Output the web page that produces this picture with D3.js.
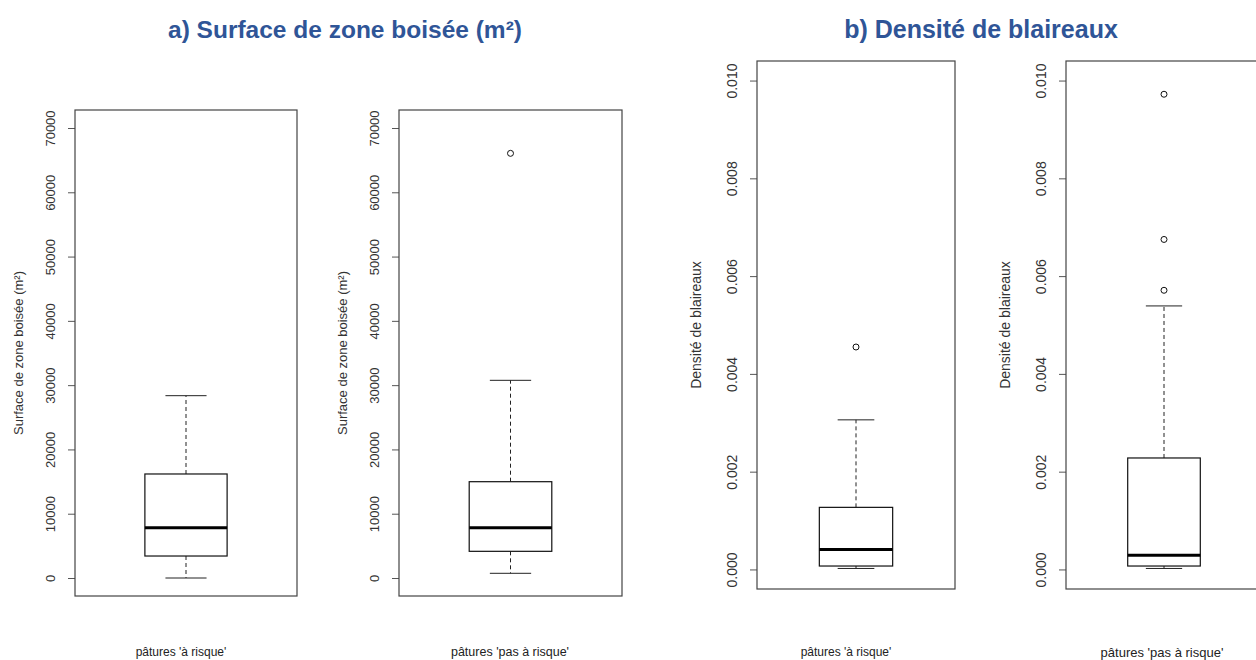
<!DOCTYPE html>
<html>
<head>
<meta charset="utf-8">
<script src="https://cdn.jsdelivr.net/npm/d3@7"></script>
<style>
  html, body { margin: 0; padding: 0; background: #fff; }
  svg { display: block; font-family: "Liberation Sans", Arial, sans-serif; }
</style>
</head>
<body>
<svg id="chart" width="1256" height="660"></svg>
<script>
// Groups of pastures
const categories = ["pâtures 'à risque'", "pâtures 'pas à risque'"];

// Box statistics: [lower whisker, Q1, median, Q3, upper whisker]
const surfaceStats = [
  [0, 3420, 7820, 16180, 28360],
  [730, 4150, 7820, 14980, 30750]
];
const surfaceOutliers = [
  [],
  [66060]
];
const densityStats = [
  [0.00002, 0.00007, 0.00041, 0.00127, 0.00306],
  [0.00002, 0.00007, 0.00029, 0.00228, 0.00539]
];
const densityOutliers = [
  [0.00455],
  [0.00571, 0.00675, 0.00972]
];

// Axis ticks and limits
const surfaceTicks = [0, 10000, 20000, 30000, 40000, 50000, 60000, 70000];
const densityTicks = [0, 0.002, 0.004, 0.006, 0.008, 0.010];
const surfaceLimits = [0, 70000];
const densityLimits = [0, 0.010];

const titles = ["a) Surface de zone boisée (m²)", "b) Densité de blaireaux"];
const yTitles = ["Surface de zone boisée (m²)", "Densité de blaireaux"];

const svg = d3.select("#chart");

function drawPanel(opt) {
  const { left, right, top, bottom, limits, ticks, fmt, stats, outliers,
          yTitle, yTitleX, category, tickFont, titleFont, catFont, catX } = opt;
  const pad = (limits[1] - limits[0]) * 0.04;
  const y = d3.scaleLinear().domain([limits[0] - pad, limits[1] + pad]).range([bottom, top]);
  const x = d3.scaleLinear().domain([0.46, 1.54]).range([left, right]);
  const g = svg.append("g");

  // y axis
  const axis = g.append("g")
    .attr("transform", `translate(${left},0)`)
    .call(d3.axisLeft(y).tickValues(ticks).tickSize(7).tickSizeOuter(0).tickFormat(fmt));
  axis.select(".domain").remove();
  axis.selectAll(".tick line").attr("stroke", "#555");
  axis.selectAll(".tick text")
    .attr("x", 0).attr("y", -25).attr("dy", null)
    .attr("transform", "rotate(-90)")
    .attr("text-anchor", "middle")
    .attr("dominant-baseline", "central")
    .attr("fill", "#333")
    .style("font-size", tickFont + "px")
    .style("font-family", "'Liberation Sans', Arial, sans-serif");

  // y title
  g.append("text")
    .attr("transform", `translate(${yTitleX},${(top + bottom) / 2}) rotate(-90)`)
    .attr("text-anchor", "middle")
    .attr("dominant-baseline", "central")
    .attr("fill", "#333")
    .style("font-size", titleFont + "px")
    .text(yTitle);

  // frame
  g.append("rect")
    .attr("x", left).attr("y", top)
    .attr("width", right - left).attr("height", bottom - top)
    .attr("fill", "none").attr("stroke", "#444").attr("stroke-width", 1.2);

  // box plot
  const [lo, q1, med, q3, hi] = stats;
  const cx = x(1), bw = x(1.2) - x(1), cw = x(1.1) - x(1);
  g.append("line").attr("x1", cx).attr("x2", cx).attr("y1", y(q3)).attr("y2", y(hi))
    .attr("stroke", "#222").attr("stroke-dasharray", "4,3");
  g.append("line").attr("x1", cx).attr("x2", cx).attr("y1", y(q1)).attr("y2", y(lo))
    .attr("stroke", "#222").attr("stroke-dasharray", "4,3");
  g.append("line").attr("x1", cx - cw).attr("x2", cx + cw).attr("y1", y(hi)).attr("y2", y(hi))
    .attr("stroke", "#222");
  g.append("line").attr("x1", cx - cw).attr("x2", cx + cw).attr("y1", y(lo)).attr("y2", y(lo))
    .attr("stroke", "#222");
  g.append("rect")
    .attr("x", cx - bw).attr("width", 2 * bw)
    .attr("y", y(q3)).attr("height", y(q1) - y(q3))
    .attr("fill", "#fff").attr("stroke", "#111").attr("stroke-width", 1.2);
  g.append("line").attr("x1", cx - bw).attr("x2", cx + bw).attr("y1", y(med)).attr("y2", y(med))
    .attr("stroke", "#000").attr("stroke-width", 3);

  g.selectAll("circle.out").data(outliers).enter().append("circle")
    .attr("class", "out")
    .attr("cx", cx).attr("cy", d => y(d)).attr("r", 3)
    .attr("fill", "none").attr("stroke", "#111").attr("stroke-width", 1);

  // category label
  g.append("text")
    .attr("x", catX).attr("y", 652)
    .attr("text-anchor", "middle")
    .attr("dominant-baseline", "central")
    .attr("fill", "#222")
    .style("font-size", catFont + "px")
    .text(category);
}

const fmtSurface = d3.format("d");
const fmtDensity = d3.format(".3f");

drawPanel({ left: 75, right: 297, top: 110, bottom: 596, limits: surfaceLimits, ticks: surfaceTicks,
  fmt: fmtSurface, stats: surfaceStats[0], outliers: surfaceOutliers[0], yTitle: yTitles[0],
  yTitleX: 18, category: categories[0], tickFont: 13, titleFont: 13, catFont: 12, catX: 181 });
drawPanel({ left: 399, right: 622, top: 110, bottom: 596, limits: surfaceLimits, ticks: surfaceTicks,
  fmt: fmtSurface, stats: surfaceStats[1], outliers: surfaceOutliers[1], yTitle: yTitles[0],
  yTitleX: 342, category: categories[1], tickFont: 13, titleFont: 13, catFont: 12.5, catX: 510 });
drawPanel({ left: 757, right: 955, top: 61, bottom: 589, limits: densityLimits, ticks: densityTicks,
  fmt: fmtDensity, stats: densityStats[0], outliers: densityOutliers[0], yTitle: yTitles[1],
  yTitleX: 696, category: categories[0], tickFont: 14, titleFont: 14, catFont: 12, catX: 846 });
drawPanel({ left: 1066, right: 1262, top: 61, bottom: 589, limits: densityLimits, ticks: densityTicks,
  fmt: fmtDensity, stats: densityStats[1], outliers: densityOutliers[1], yTitle: yTitles[1],
  yTitleX: 1005, category: categories[1], tickFont: 14, titleFont: 14, catFont: 13, catX: 1162 });

// Panel titles
svg.append("text").attr("x", 345).attr("y", 29)
  .attr("text-anchor", "middle").attr("dominant-baseline", "central")
  .attr("fill", "#2F5597").style("font-weight", "bold").style("font-size", "24.5px")
  .text(titles[0]);
svg.append("text").attr("x", 981).attr("y", 29)
  .attr("text-anchor", "middle").attr("dominant-baseline", "central")
  .attr("fill", "#2F5597").style("font-weight", "bold").style("font-size", "25px")
  .text(titles[1]);
</script>
</body>
</html>
